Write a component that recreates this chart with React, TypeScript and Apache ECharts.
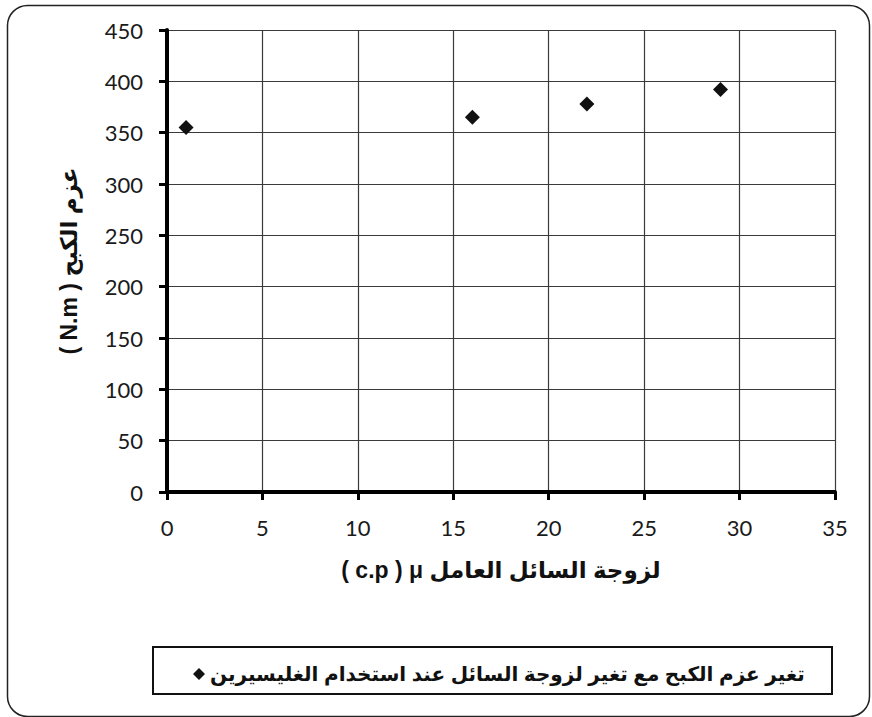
import React, { useEffect, useRef } from "react";
import * as echarts from "echarts";

// Working-fluid viscosity (c.p) and braking torque (N.m)
const viscosity: number[] = [1, 16, 22, 29];
const torque: number[] = [355, 365, 378, 392];

const xTicks = { min: 0, max: 35, interval: 5 };
const yTicks = { min: 0, max: 450, interval: 50 };

const seriesName = "تغير عزم الكبح مع تغير لزوجة السائل عند استخدام الغليسيرين";
const xTitle = "( c.p ) μ لزوجة السائل العامل";
const yTitle = "( N.m ) عزم الكبح";

const W = 872;
const H = 717;

const tickFont = "Lato, 'Open Sans', sans-serif";
const titleFont = "'Liberation Sans', Arial, 'DejaVu Sans', sans-serif";

export default function App() {
  const ref = useRef<HTMLDivElement>(null);

  useEffect(() => {
    document.body.style.margin = "0";
    if (!ref.current) return;
    const chart = echarts.init(ref.current, undefined, { renderer: "svg" });

    const points = viscosity.map((v, i) => [v, torque[i]]);

    const axisCommon = {
      axisLine: { show: true, onZero: false, lineStyle: { color: "#000", width: 4 } },
      axisTick: { show: true, inside: false, length: 8, lineStyle: { color: "#000", width: 3 } },
      axisLabel: { margin: 24, fontFamily: tickFont, fontSize: 22, color: "#1a1a1a" },
      // the min line would sit on top of the thick axis line, so leave it out
      splitLine: {
        show: true,
        showMinLine: false,
        lineStyle: { color: "#3a3a3a", width: 1.2 },
      },
    };
    const titleStyle = {
      fontFamily: titleFont,
      fontWeight: "bold",
      fontSize: 23,
      color: "#111",
    };

    chart.setOption({
      animation: false,
      backgroundColor: "#ffffff",
      grid: { left: 167, right: 37, top: 30, bottom: 225, containLabel: false },
      xAxis: {
        type: "value",
        min: xTicks.min,
        max: xTicks.max,
        interval: xTicks.interval,
        name: xTitle,
        nameLocation: "middle",
        nameGap: 66,
        nameTextStyle: titleStyle,
        ...axisCommon,
      },
      yAxis: {
        type: "value",
        min: yTicks.min,
        max: yTicks.max,
        interval: yTicks.interval,
        name: yTitle,
        nameLocation: "middle",
        nameGap: 87,
        nameTextStyle: titleStyle,
        ...axisCommon,
      },
      legend: {
        show: true,
        left: 188,
        top: 659,
        icon: "diamond",
        itemWidth: 12,
        itemHeight: 12,
        itemGap: 10,
        itemStyle: { opacity: 1, color: "#111" },
        textStyle: {
          fontFamily: titleFont,
          fontWeight: "bold",
          fontSize: 20,
          color: "#111",
        },
        data: [seriesName],
      },
      graphic: [
        {
          type: "rect",
          left: 5,
          top: 3,
          shape: { width: W - 10, height: H - 6, r: 20 },
          style: { fill: "none", stroke: "#222", lineWidth: 1.5 },
          silent: true,
          z: -1,
        },
        {
          type: "rect",
          shape: { x: 153, y: 647, width: 679, height: 47 },
          style: { fill: "none", stroke: "#111", lineWidth: 2 },
          silent: true,
        },
      ],
      series: [
        {
          name: seriesName,
          type: "scatter",
          symbol: "diamond",
          symbolSize: 15,
          itemStyle: { color: "#111", opacity: 1 },
          data: points,
        },
      ],
    });

    return () => chart.dispose();
  }, []);

  return <div ref={ref} style={{ width: W, height: H }} />;
}
